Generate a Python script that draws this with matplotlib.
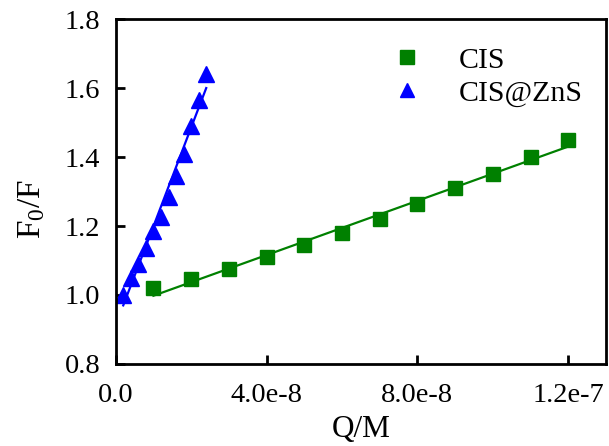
import numpy as np
import matplotlib
matplotlib.use('Agg')
import matplotlib.pyplot as plt

# --- data ---
cis_x = [1e-8, 2e-8, 3e-8, 4e-8, 5e-8, 6e-8, 7e-8, 8e-8, 9e-8, 1.0e-7, 1.1e-7, 1.2e-7]
cis_y = [1.02, 1.045, 1.075, 1.11, 1.145, 1.18, 1.22, 1.265, 1.31, 1.35, 1.40, 1.45]

zns_x = [2e-9, 4e-9, 6e-9, 8e-9, 10e-9, 12e-9, 14e-9, 16e-9, 18e-9, 20e-9, 22e-9, 24e-9]
zns_y = [1.0, 1.05, 1.09, 1.135, 1.185, 1.225, 1.285, 1.345, 1.41, 1.49, 1.565, 1.64]

xticks = [0, 4e-8, 8e-8, 1.2e-7]
xtick_labels = ['0.0', '4.0e-8', '8.0e-8', '1.2e-7']
yticks = [0.8, 1.0, 1.2, 1.4, 1.6, 1.8]
ytick_labels = ['0.8', '1.0', '1.2', '1.4', '1.6', '1.8']

plt.rcParams['font.family'] = 'Liberation Serif'
plt.rcParams['mathtext.fontset'] = 'custom'
plt.rcParams['mathtext.rm'] = 'Liberation Serif'
plt.rcParams['mathtext.it'] = 'Liberation Serif:italic'

fig = plt.figure(figsize=(6.09, 4.46), dpi=100)
ax = fig.add_axes([0.19, 0.184, 0.805, 0.773])

# linear fits (Stern-Volmer)
for xs, ys, col in [(cis_x, cis_y, 'green'), (zns_x, zns_y, 'blue')]:
    k, b = np.polyfit(xs, ys, 1)
    xx = np.array([xs[0], xs[-1]])
    ax.plot(xx, k * xx + b, color=col, lw=1.6)

ax.plot(cis_x, cis_y, ls='none', marker='s', ms=10.5, color='green', label='CIS')
ax.plot(zns_x, zns_y, ls='none', marker='^', ms=11, color='blue', label='CIS@ZnS')

ax.set_xlim(0, 1.3e-7)
ax.set_ylim(0.8, 1.8)
ax.set_xticks(xticks)
ax.set_xticklabels(xtick_labels)
ax.set_yticks(yticks)
ax.set_yticklabels(ytick_labels)
ax.tick_params(direction='in', length=6.5, width=2, labelsize=20.5)
ax.tick_params(axis='x', pad=14)
ax.tick_params(axis='y', pad=11)
for s in ax.spines.values():
    s.set_linewidth(2)

ax.set_xlabel('Q/M', fontsize=22.5)
ax.xaxis.set_label_coords(0.5, -0.148)
ax.set_ylabel('F$_0$/F', fontsize=24)
ax.yaxis.set_label_coords(-0.14, 0.45)

ax.legend(loc='upper left', frameon=False, fontsize=21.5, handlelength=1.0,
          handletextpad=1.25, borderpad=0, borderaxespad=0, labelspacing=0.2,
          markerscale=0.9, bbox_to_anchor=(0.563, 0.92))

plt.savefig('out.png', dpi=100)
